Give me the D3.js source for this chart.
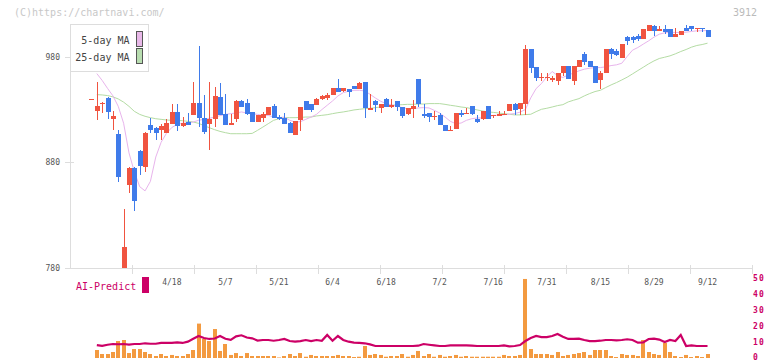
<!DOCTYPE html>
<html>
<head>
<meta charset="utf-8">
<script src="https://cdn.jsdelivr.net/npm/d3@7"></script>
<style>
  body { margin: 0; background: #fff; }
  text { font-family: "DejaVu Sans Mono", monospace; }
</style>
</head>
<body>
<svg id="chart" width="772" height="361"></svg>
<script>
// trading days shown (2025)
const dates = ["3/28","3/31","4/1","4/2","4/3","4/4","4/7","4/8","4/9","4/10","4/11","4/14","4/15","4/16","4/17",
  "4/18","4/21","4/22","4/23","4/24","4/25","4/28","4/30","5/1","5/2",
  "5/7","5/8","5/9","5/12","5/13","5/14","5/15","5/16","5/19","5/20",
  "5/21","5/22","5/23","5/26","5/27","5/28","5/29","5/30","6/2","6/3",
  "6/4","6/5","6/6","6/9","6/10","6/11","6/12","6/13","6/16","6/17",
  "6/18","6/19","6/20","6/23","6/24","6/25","6/26","6/27","6/30","7/1",
  "7/2","7/3","7/4","7/7","7/8","7/9","7/10","7/11","7/14","7/15",
  "7/16","7/17","7/18","7/22","7/23","7/24","7/25","7/28","7/29","7/30",
  "7/31","8/1","8/4","8/5","8/6","8/7","8/8","8/12","8/13","8/14",
  "8/15","8/18","8/19","8/20","8/21","8/22","8/25","8/26","8/27","8/28",
  "8/29","9/1","9/2","9/3","9/4","9/5","9/8","9/9","9/10","9/11","9/12"];

const open = [940,929,935,941,921,906.5,770,858.5,875,891,876,915,912.5,911,908,916.5,928,914,918,924.5,
  936,922,916,921,942,925.5,915,921,938.5,936,927.5,918,922,924.5,933,923,922,917.5,905.5,920,
  938,935,934,939.7,941,943.5,950,948,949,952,949,956,930,938,931.5,940,932.5,938,932.5,926,
  930.5,958.6,925.5,926.7,923,924.5,915.6,909.6,912,927,926,933,920.7,921.3,933,923.6,924,925,929,935,
  930.5,935,987,970.7,959.6,959.6,958,957.4,964.4,971.3,957,970.7,982.4,976,971.3,958,964.4,987,985,978.6,
  998.5,999,999.7,996.6,1004,1009.2,1004,1006,1006,998.2,1000.7,1007,1008.6,1007,1007.6,1004.8];
const high = [940,956,937,942,929,911,835.5,875.5,875.5,891.5,908.5,922,913,916,921,935.5,935.5,923,927,956,
  990,943.5,956,951,955,945,925.5,939,939,940,928,925,928,932,935,924.5,927,918,919,932,
  938,935,941,944,946,950,959,950,949.2,952,956,956,944.5,939,935,941,940,938,932.5,931.5,
  938.7,958.6,935.6,927,928.3,927,915.6,914,927,930,931.5,933,924.5,928.3,933,924.5,929,929,935,936,
  936,991,987,970.7,964.4,964.4,962,964.4,971.3,971.3,971.3,977,984,976,971.3,966.6,987,988.7,987,992,
  999.7,999.7,1001.3,1006,1010.8,1010.8,1008.6,1010.2,1006,1007,1003.9,1010.8,1008.6,1007.6,1007.6,1004.8];
const low = [940,920,927,921,911,861,760,851,834,868,871,908,901,901,908,916,910,913,915.5,924.5,
  913,906.5,892,913,924.5,915,915,918,932,925,918,918,918,924.5,922,920.5,916.5,908,905.5,910,
  930,928,934,938.7,938.7,943.5,946.6,946.6,942,949,949,922,930,927.7,927,932.5,931,929,922.3,924.5,
  922.3,932.4,922,918,919.8,915,909.6,909.6,912,923,926,924.5,917.5,920.4,921.3,922,924,924.5,928.3,925,
  925,925,964.4,957,957.1,957,956.5,953.3,962,958.7,953.3,970.7,972.3,970,955,949.2,964.4,977.6,980.8,978.6,
  991.2,992.8,994.4,996.6,1004,1000,1004,1001.3,998.2,998.2,1000.7,1004.5,1004.5,1003.2,1003.2,998.5];
const close = [940,933,936,928,924,866,800,875,843,877,908,911,908,914,917,928,914,917,915.5,936,
  922,909,921,942.5,924.5,915,917,938.5,932.5,925.5,918,924.5,925.5,932,922,921,916.5,908,919,932,
  930,930,939.7,942.8,944,950,946.6,950,946.6,949,955,931.5,931.5,934,935,932.5,934,932.5,923.5,931.5,
  933,935,924,923,924,915,909.6,910.3,927,924.5,926.7,926,918.2,928.3,921.3,924.5,926,926,935,929.6,
  936,987,969.7,960.3,960.6,960.6,959.6,964.4,971.3,958.7,971.3,977,975.4,970.7,955,965,987,982.4,981.7,992,
  995.3,996,997,1006,1010.2,1004,1006,1003,998.2,1001.3,1003.9,1004.5,1006.4,1007.6,1006,998.5];

const ma5 = [null,964,957.5,950,943,933,917,889,871,857,853,862,885,899,907.5,913,916,917,917.5,918.2,
  919.8,920.7,921.7,922.9,924.2,925.4,926.1,926.7,927.7,926.7,926.1,925.4,924.5,924.5,922.9,922.3,922.9,919.8,918.2,918.5,
  920.7,922.9,925.4,929.9,934,938.1,942.8,946,947.3,948.2,948.2,947.6,944.4,940.9,937.8,935.6,934.3,933.3,931.8,930.8,
  930.8,931.5,931.8,931.5,929.2,926.7,922.9,918.8,916.6,917.2,919.8,921.3,922,922,922.9,924.5,924.5,925.1,925.6,926.2,
  927.5,930,941,949.8,954.6,960.9,966,962.1,960.3,962.8,964.4,966.6,968.2,969.1,969.7,969.7,970.4,971.6,972.3,973.8,
  980.2,986.2,988.7,991.9,995,998.5,1001.3,1002.6,1003.2,1002.9,1002.9,1003.2,1003.9,1004.5,1004.5,1004.8];
const ma25 = [null,944.1,943.8,943.2,942,940,937,933,928.3,925.4,923.6,922.3,921.3,920.7,920.1,919.8,919.8,919.4,918.8,918.2,
  916.9,914.7,912.8,910.9,909.3,908.1,907.1,907.1,907.1,907.1,907.4,910.3,913.4,916.6,919.8,921.3,922.3,922.3,922.3,922.5,
  922.9,922.9,923.9,924.5,925.1,926.1,927,927.7,928.6,929.6,930.2,930.8,931.1,931.8,932.4,933,934,934.3,934.6,934.9,
  934.9,935.2,935.2,935.6,935.6,935.6,934.9,934,933.3,932.4,931.8,930.8,929.6,928.6,927.7,927.3,926.7,926.1,925.5,924.9,
  924.9,925.2,925.5,928,930.2,931.2,932.4,933.7,934.6,937.2,938.8,940.3,942.9,945.1,947,948.2,950.8,953.3,955.5,958,
  960.6,963.7,966.9,970,973.2,976,978.3,979.5,980.8,982.7,984.9,986.8,989,990.6,991.5,992.8];

const volume = [null,5,2.5,2.5,3.75,10.6,11.25,3.1,5.6,5.6,3.75,2.5,1.25,2.5,1.25,1.9,1.25,1.25,2.5,5,
  21.5,11.9,10.6,18.1,4.4,8.75,1.9,3.1,1.25,3.1,1.25,1.25,1.25,1.25,1.25,0.3,1.25,2.5,1.25,3.1,
  0.8,1.9,1.25,1.25,1.25,1.25,1.9,1.25,1.25,0.6,0.8,7.5,1.9,2.5,1.9,0.8,1.25,1.25,2.5,0.8,
  1.9,4.4,1.25,2.5,0.8,1.9,0.8,1.25,1.9,0.8,1.25,0.8,0.8,0.8,0.8,0.8,0.8,1.9,1.25,1.25,
  1.9,49.4,5.6,2.5,2.5,2.5,1.9,3.75,1.25,1.9,2.5,3.1,3.75,1.9,5,5,5,1.25,0.6,2.5,
  1.9,1.9,1.25,11.25,3.75,2.5,1.9,9.4,3.75,1.25,0.6,1.9,0.6,1.25,0.6,2.5];
const aiPredict = [null,8.1,7.6,8.3,8.75,8.6,8.75,8.4,8.75,8.75,9.2,8.9,8.9,9.4,9.4,9.4,9.8,9.4,10.2,12,
  13.8,12.5,11.9,12.2,13.8,12,11.3,13.5,14.2,12.8,12.3,10.9,11.25,11.25,10.8,11.25,11.9,10.6,10.2,10.6,
  11.25,10.6,11.25,10.8,14.4,10.8,13.75,11.25,10.2,9.6,9.4,9.2,8.5,7.5,7.5,7.5,7.5,7.5,7.5,7.5,
  7.5,7.7,8.75,8.3,7.9,7.5,7.5,7.9,7.9,7.9,7.9,7.7,7.5,7.5,7.5,7.5,7.5,7.9,7.3,7.5,
  8.1,10.6,12.5,13.75,13.1,13.1,13.75,15,13.3,11.9,11.9,12.1,11.25,10.6,10.6,10.8,11.25,11.25,11,11.25,
  11.7,11.25,9.6,9.8,11.9,12.1,11.5,10,11.25,10.6,14.4,7.5,7.9,7.5,7.5,7.5];

const dateTicks = ["4/18","5/7","5/21","6/4","6/18","7/2","7/16","7/31","8/15","8/29","9/12"];
const priceTicks = [780, 880, 980];
const predictTicks = [0, 10, 20, 30, 40, 50];

const upColor = "#f05440", downColor = "#3f7bea";
const aiColor = "#cc0066";

const svg = d3.select("#chart");
const plotL = 70, plotR = 752, plotT = 25, plotB = 268;

const x = d3.scaleBand().domain(dates).range([88.8, 710.2]);
const cx = d => x(d) + x.bandwidth() / 2;
const y = d3.scaleLinear().domain([780, 1010]).range([plotB, plotT]);
const yv = d3.scaleLinear().domain([0, 50]).range([358, 278]);
const grid = d3.scaleLinear().domain([0, 11]).range([plotL, plotR]);

const rows = dates.map((d, i) => ({ d, o: open[i], h: high[i], l: low[i], c: close[i],
  m5: ma5[i], m25: ma25[i], v: volume[i], ai: aiPredict[i] }));

// header texts
svg.append("text").attr("x", 14).attr("y", 16).attr("font-size", 10).attr("fill", "#c8c8c8")
  .text("(C)https://chartnavi.com/");
svg.append("text").attr("x", 757).attr("y", 16).attr("font-size", 10).attr("fill", "#bbb")
  .attr("text-anchor", "end").text("3912");

// axes frame
const axes = svg.append("g").attr("stroke", "#ddd").attr("stroke-width", 1).attr("shape-rendering", "crispEdges");
axes.append("line").attr("x1", plotL + 0.5).attr("x2", plotL + 0.5).attr("y1", plotT).attr("y2", plotB + 0.5);
axes.append("line").attr("x1", plotL).attr("x2", plotR + 0.5).attr("y1", plotB + 0.5).attr("y2", plotB + 0.5);
axes.selectAll(".xt").data(d3.range(1, 12)).join("line")
  .attr("x1", d => Math.round(grid(d)) + 0.5).attr("x2", d => Math.round(grid(d)) + 0.5)
  .attr("y1", plotB - 3).attr("y2", plotB + 6);
axes.selectAll(".yt").data(priceTicks).join("line")
  .attr("x1", plotL - 5).attr("x2", plotL + 4)
  .attr("y1", d => Math.round(y(d)) + 0.5).attr("y2", d => Math.round(y(d)) + 0.5);

svg.selectAll(".ylab").data(priceTicks).join("text")
  .attr("x", 60).attr("y", d => y(d) + 3).attr("text-anchor", "end")
  .attr("font-size", 8).attr("fill", "#555").text(d => d);

svg.selectAll(".xlab").data(dateTicks).join("text")
  .attr("x", d => cx(d)).attr("y", 285).attr("text-anchor", "middle")
  .attr("font-size", 8).attr("fill", "#555").text(d => d);

// price plot
svg.append("clipPath").attr("id", "clip").append("rect")
  .attr("x", plotL + 1).attr("y", plotT).attr("width", plotR - plotL).attr("height", plotB - plotT);
const plot = svg.append("g").attr("clip-path", "url(#clip)");

const lineMA = key => d3.line().defined(r => r[key] != null).x(r => cx(r.d)).y(r => y(r[key]));
plot.append("path").datum(rows).attr("d", lineMA("m25")).attr("fill", "none")
  .attr("stroke", "#b4dca4").attr("stroke-width", 1);
plot.append("path").datum(rows).attr("d", lineMA("m5")).attr("fill", "none")
  .attr("stroke", "#e8b4ec").attr("stroke-width", 1);

const candle = plot.selectAll(".candle").data(rows).join("g").attr("shape-rendering", "crispEdges");
candle.append("line")
  .attr("x1", r => Math.round(cx(r.d)) + 0.5).attr("x2", r => Math.round(cx(r.d)) + 0.5)
  .attr("y1", r => y(r.h)).attr("y2", r => y(r.l))
  .attr("stroke", r => r.c >= r.o ? upColor : downColor).attr("stroke-width", 1);
candle.append("rect")
  .attr("x", r => Math.round(cx(r.d)) - 2).attr("width", 5)
  .attr("y", r => y(Math.max(r.o, r.c)))
  .attr("height", r => Math.max(1, Math.abs(y(r.o) - y(r.c))))
  .attr("fill", r => r.c >= r.o ? upColor : downColor);

// legend
const lg = svg.append("g");
lg.append("rect").attr("x", 70.5).attr("y", 24.5).attr("width", 78).attr("height", 47)
  .attr("fill", "#fff").attr("stroke", "#ddd");
[["5-day MA", "#e8b8e8", 44], ["25-day MA", "#b8ddb0", 61]].forEach(([t, c, by]) => {
  lg.append("text").attr("x", 129.5).attr("y", by).attr("text-anchor", "end")
    .attr("font-size", 10).attr("fill", "#444").text(t);
  lg.append("rect").attr("x", 136.5).attr("y", by - 12.5).attr("width", 6).attr("height", 15)
    .attr("fill", c).attr("stroke", "#555");
});

// AI-Predict panel
svg.append("text").attr("x", 76).attr("y", 290).attr("font-size", 10).attr("fill", aiColor).text("AI-Predict");
svg.append("rect").attr("x", 142).attr("y", 277).attr("width", 7).attr("height", 16).attr("fill", aiColor);

svg.selectAll(".vbar").data(rows.filter(r => r.v != null)).join("rect")
  .attr("x", r => Math.round(cx(r.d)) - 2).attr("width", 4)
  .attr("y", r => yv(r.v)).attr("height", r => yv(0) - yv(r.v))
  .attr("fill", "#f39a40");

svg.append("path").datum(rows)
  .attr("d", d3.line().defined(r => r.ai != null).x(r => cx(r.d)).y(r => yv(r.ai)))
  .attr("fill", "none").attr("stroke", aiColor).attr("stroke-width", 2.2);

svg.selectAll(".vlab").data(predictTicks).join("text")
  .attr("x", 753).attr("y", d => Math.min(yv(d) + 2.5, 359.5)).attr("font-size", 8).attr("font-weight", "bold")
  .attr("letter-spacing", 1.2).attr("fill", aiColor).text(d => d);
</script>
</body>
</html>
